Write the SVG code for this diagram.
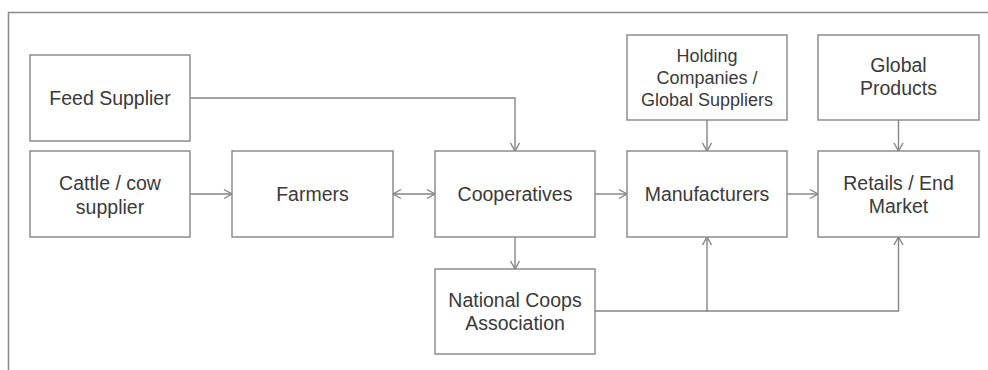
<svg xmlns="http://www.w3.org/2000/svg" width="988" height="370" viewBox="0 0 988 370">
<style>
.box{fill:#fff;stroke:#858585;stroke-width:1.4}
.t{font-family:"Liberation Sans",Arial,sans-serif;font-size:19.5px;fill:#3a3a3a;text-anchor:middle}
.s{font-size:18px}
.c{fill:none;stroke:#858585;stroke-width:1.4}
</style>
<defs>
<marker id="ah" markerUnits="userSpaceOnUse" markerWidth="12" markerHeight="12" refX="9" refY="6" orient="auto-start-reverse">
<path d="M1,1.5 L9,6 L1,10.5" fill="none" stroke="#858585" stroke-width="1.4"/>
</marker>
</defs>
<rect width="988" height="370" fill="#fff"/>
<path d="M8.5,370 V12.5 H988" fill="none" stroke="#8a8a8a" stroke-width="1.5"/>
<g id="connectors">
<path class="c" d="M190,98 H515 V151" marker-end="url(#ah)"/>
<path class="c" d="M190,194 H232" marker-end="url(#ah)"/>
<path class="c" d="M393,194 H435" marker-start="url(#ah)" marker-end="url(#ah)"/>
<path class="c" d="M595,194 H627" marker-end="url(#ah)"/>
<path class="c" d="M787,194 H818" marker-end="url(#ah)"/>
<path class="c" d="M707,120 V151" marker-end="url(#ah)"/>
<path class="c" d="M898.5,120 V151" marker-end="url(#ah)"/>
<path class="c" d="M515,237 V269" marker-end="url(#ah)"/>
<path class="c" d="M595,311 H707 V237" marker-end="url(#ah)"/>
<path class="c" d="M707,311 H898.5 V237" marker-end="url(#ah)"/>
</g>
<g id="feed"><rect class="box" x="30" y="55" width="160" height="86"/><text class="t" x="110" y="105">Feed Supplier</text></g>
<g id="cattle"><rect class="box" x="30" y="151" width="160" height="86"/><text class="t" x="110" y="190">Cattle / cow</text><text class="t" x="110" y="214">supplier</text></g>
<g id="farmers"><rect class="box" x="232" y="151" width="161" height="86"/><text class="t" x="312.5" y="201">Farmers</text></g>
<g id="coops"><rect class="box" x="435" y="151" width="160" height="86"/><text class="t" x="515" y="201">Cooperatives</text></g>
<g id="manufacturers"><rect class="box" x="627" y="151" width="160" height="86"/><text class="t" x="707" y="201">Manufacturers</text></g>
<g id="retails"><rect class="box" x="818" y="151" width="161" height="86"/><text class="t" x="898.5" y="190">Retails / End</text><text class="t" x="898.5" y="213">Market</text></g>
<g id="holding"><rect class="box" x="627" y="35" width="160" height="85"/><text class="t s" x="707" y="61.5">Holding</text><text class="t s" x="707" y="83.5">Companies /</text><text class="t s" x="707" y="105.5">Global Suppliers</text></g>
<g id="global"><rect class="box" x="818" y="35" width="161" height="85"/><text class="t" x="898.5" y="72">Global</text><text class="t" x="898.5" y="95">Products</text></g>
<g id="ncoops"><rect class="box" x="435" y="269" width="160" height="85"/><text class="t" x="515" y="307">National Coops</text><text class="t" x="515" y="330">Association</text></g>
</svg>
